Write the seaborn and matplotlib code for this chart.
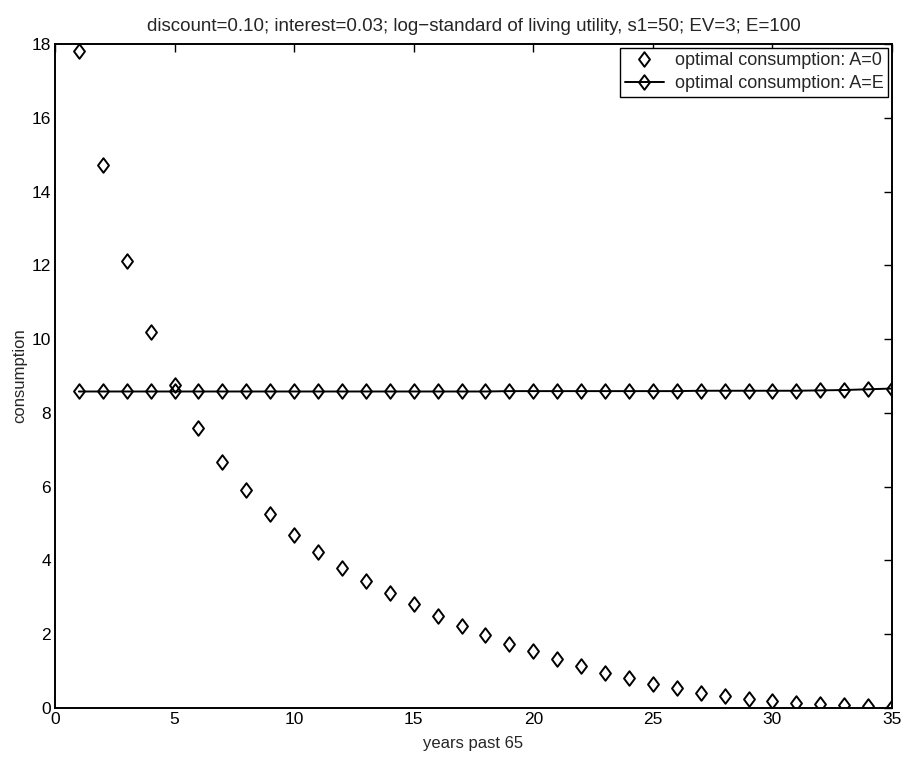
import numpy as np
import pandas as pd
import matplotlib
matplotlib.use("Agg")
import matplotlib.pyplot as plt
from matplotlib.path import Path
import seaborn as sns

years = list(range(1, 36))
consumption_A0 = [17.8, 14.72, 12.13, 10.2, 8.75, 7.6, 6.68, 5.9, 5.25, 4.7,
                  4.22, 3.8, 3.44, 3.12, 2.82, 2.5, 2.22, 1.97, 1.74, 1.54,
                  1.34, 1.13, 0.95, 0.81, 0.66, 0.53, 0.42, 0.33, 0.25, 0.19,
                  0.14, 0.1, 0.07, 0.06, 0.04]
consumption_AE = [8.58, 8.58, 8.58, 8.58, 8.58, 8.58, 8.58, 8.58, 8.58, 8.58,
                  8.58, 8.58, 8.58, 8.58, 8.58, 8.58, 8.58, 8.58, 8.59, 8.59,
                  8.59, 8.59, 8.59, 8.59, 8.59, 8.59, 8.6, 8.6, 8.6, 8.6,
                  8.6, 8.61, 8.62, 8.64, 8.66]

title = "discount=0.10; interest=0.03; log\u2212standard of living utility, s1=50; EV=3; E=100"
xlabel = "years past 65"
ylabel = "consumption"
label_A0 = "optimal consumption: A=0"
label_AE = "optimal consumption: A=E"

sns.set_style("white")
plt.rcParams['font.family'] = ['Liberation Sans', 'DejaVu Sans']

df = pd.DataFrame({"year": years, "A0": consumption_A0, "AE": consumption_AE})

diamond = Path([(0, -1), (0.75, 0), (0, 1), (-0.75, 0), (0, -1)],
               [Path.MOVETO, Path.LINETO, Path.LINETO, Path.LINETO, Path.CLOSEPOLY])

fig = plt.figure(figsize=(9.09, 7.65), dpi=100)
ax = fig.add_axes([0.0605, 0.0745, 0.9208, 0.868])

mk = dict(marker=diamond, markersize=10.5, markerfacecolor="none",
          markeredgecolor="black", markeredgewidth=1.4, color="black")
sns.lineplot(data=df, x="year", y="A0", ax=ax, linestyle="none",
             label=label_A0, **mk)
sns.lineplot(data=df, x="year", y="AE", ax=ax, linewidth=1.4,
             label=label_AE, **mk)

ax.set_xlim(0, 35)
ax.set_ylim(0, 18)
ax.set_xticks(range(0, 36, 5))
ax.set_yticks(range(0, 19, 2))
ax.tick_params(direction="in", length=6, width=1, labelsize=12.5, top=True, right=True,
               colors="black", pad=3)
for s in ax.spines.values():
    s.set_visible(True)
    s.set_color("black")
    s.set_linewidth(1.4)
ax.set_xlabel(xlabel, fontsize=12, labelpad=6)
ax.set_ylabel(ylabel, fontsize=12, labelpad=3)
ax.set_title(title, fontsize=13.5, pad=9)
ax.grid(False)

leg = ax.legend(loc="upper right", fontsize=13, frameon=True, fancybox=False,
                edgecolor="black", borderaxespad=0.2, borderpad=0.25,
                labelspacing=0.35, handlelength=2.2, handletextpad=0.6)
leg.get_frame().set_linewidth(1.0)
leg.get_frame().set_alpha(1)

fig.savefig("out.png", dpi=100)
